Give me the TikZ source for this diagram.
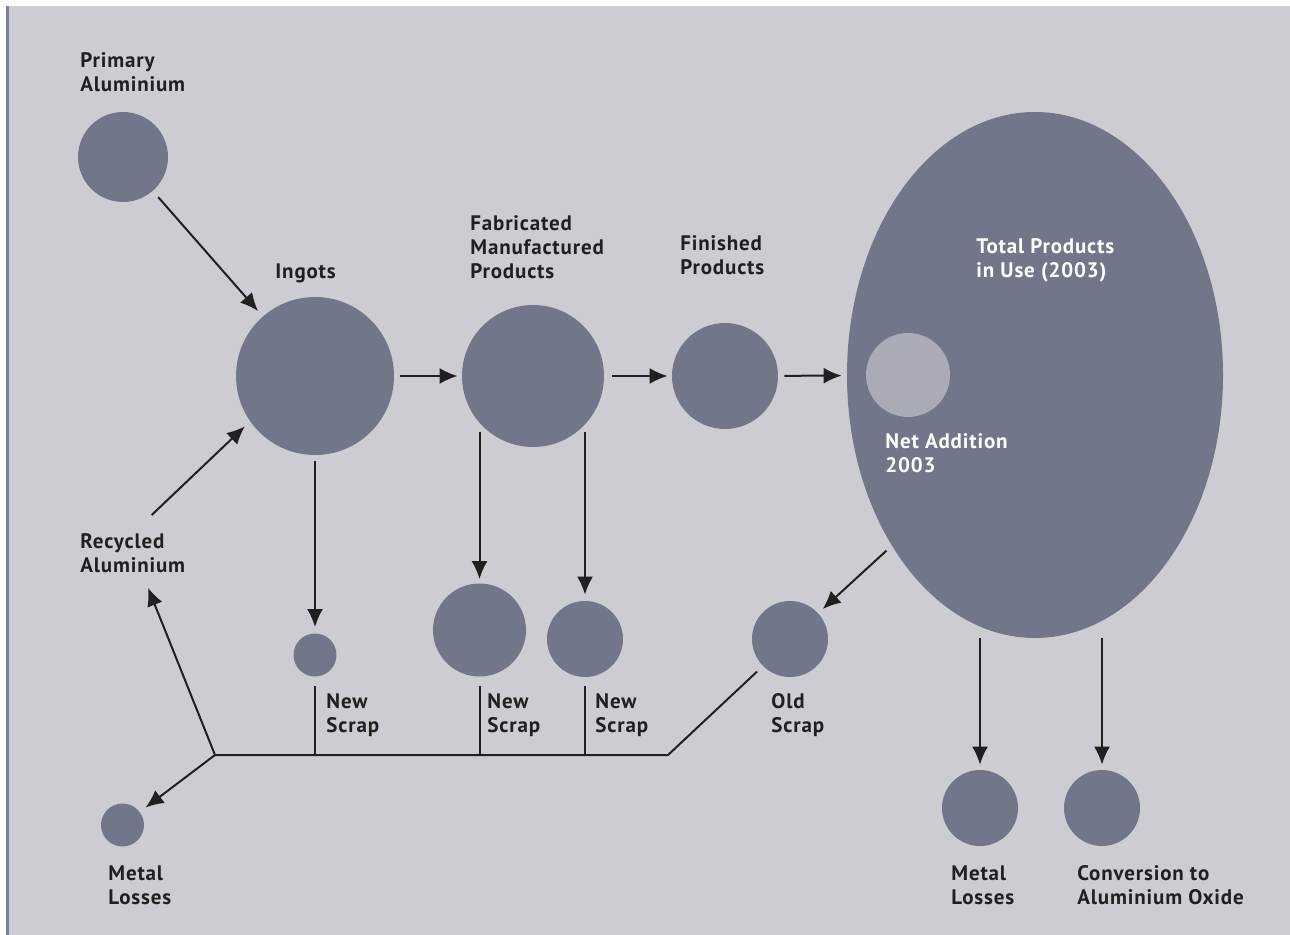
\documentclass[tikz,border=0pt]{standalone}
\usepackage{fontspec}
\setmainfont{PT Sans}[LetterSpace=4]
\usetikzlibrary{arrows.meta,shapes.geometric,calc}
\definecolor{fond}{HTML}{CDCCD2}
\definecolor{disque}{HTML}{717789}
\definecolor{clair}{HTML}{ABABB5}
\definecolor{bord}{HTML}{7A8196}
\definecolor{encre}{HTML}{231F20}
\tikzset{
  disc/.style={circle, fill=disque, inner sep=0pt, minimum size=#1},
  lbl/.style={anchor=north west, inner sep=0pt, align=left, text=encre,
    font=\fontsize{10.5}{12}\selectfont\bfseries},
  fleche/.style={draw=encre, line width=1pt, -{Latex[length=9pt,width=8pt]}},
  trait/.style={draw=encre, line width=1pt},
}
\begin{document}
\begin{tikzpicture}[x=0.5pt, y=-0.5pt]
		\path[use as bounding box] (0,0) rectangle (1290,935);
		%Fond
		\fill[fond] (6,6) rectangle (1290,935);
		\fill[bord] (6,6) rectangle (8.5,935);
		%Stocks
		\node[disc=45pt] (prim) at (123,157) {};
		\node[disc=79pt] (ingots) at (315,376) {};
		\node[disc=71pt] (fab) at (533,376) {};
		\node[disc=53pt] (fini) at (725,376) {};
		\node[ellipse, fill=disque, inner sep=0pt, minimum width=188pt, minimum height=263pt] (total) at (1035,375) {};
		\node[circle, fill=clair, inner sep=0pt, minimum size=42pt] (net) at (908,375) {};
		\node[disc=21.5pt] (scrapA) at (315,655) {};
		\node[disc=46.5pt] (scrapB) at (479.5,630) {};
		\node[disc=38pt] (scrapC) at (585,639) {};
		\node[disc=38pt] (old) at (790,639) {};
		\node[disc=21.5pt] (lossL) at (122.5,825) {};
		\node[disc=38pt] (lossR) at (980,808) {};
		\node[disc=38pt] (oxide) at (1102,808) {};
		\coordinate (hub) at (215,755);
		\coordinate (coude) at (668,755);
		%Etiquettes
		\node[lbl] (tPrim) at (80,52) {Primary\\Aluminium};
		\node[lbl] (tIng) at (275,263) {Ingots};
		\node[lbl] (tFab) at (470,215) {Fabricated\\Manufactured\\Products};
		\node[lbl] (tFini) at (680,235) {Finished\\Products};
		\node[lbl, text=white] (tTotal) at (976,238) {Total Products\\in Use (2003)};
		\node[lbl, text=white] (tNet) at (885,433) {Net Addition\\2003};
		\node[lbl] (tRecyc) at (80,533) {Recycled\\Aluminium};
		\node[lbl] (tScrapA) at (326,693) {New\\Scrap};
		\node[lbl] (tScrapB) at (487,693) {New\\Scrap};
		\node[lbl] (tScrapC) at (595,693) {New\\Scrap};
		\node[lbl] (tOld) at (771,693) {Old\\Scrap};
		\node[lbl] (tLossL) at (108,865) {Metal\\Losses};
		\node[lbl] (tLossR) at (951,865) {Metal\\Losses};
		\node[lbl] (tOxide) at (1077,865) {Conversion to\\Aluminium Oxide};
		%Flux
		\draw[fleche, shorten <=4pt, shorten >=3.5pt] (prim) -- (ingots);
		\draw[fleche, shorten <=3pt, shorten >=2pt] (ingots) -- (fab);
		\draw[fleche, shorten <=4pt, shorten >=2pt] (fab) -- (fini);
		\draw[fleche, shorten <=3pt, shorten >=2.5pt] (fini) -- (total);
		\draw[fleche, shorten <=3pt, shorten >=3pt] (ingots) -- (scrapA);
		\draw[fleche, shorten >=2pt] (scrapB |- fab.center) ++(0,56) -- (scrapB);
		\draw[fleche, shorten >=3pt] (scrapC |- fab.center) ++(0,56) -- (scrapC);
		\draw[fleche, shorten <=3.5pt, shorten >=3pt] (total.230) -- (old);
		\draw[fleche, shorten >=2.5pt] (lossR |- total.south) -- (lossR);
		\draw[fleche, shorten >=2.5pt] (oxide |- total.south) -- (oxide);
		\draw[fleche, shorten <=13pt, shorten >=3.5pt] (tRecyc.north) -- (ingots.215);
		%Collecte des chutes
		\draw[trait] (scrapA |- hub) -- ++(0,-69);
		\draw[trait] (scrapB |- hub) -- ++(0,-69);
		\draw[trait] (scrapC |- hub) -- ++(0,-69);
		\draw[trait, shorten >=4pt] (hub) -- (coude) -- (old.225);
		\draw[fleche, shorten >=8pt] (hub) -- (tRecyc.-65);
		\draw[fleche, shorten >=3.5pt] (hub) -- (lossL);
	\end{tikzpicture}
\end{document}
